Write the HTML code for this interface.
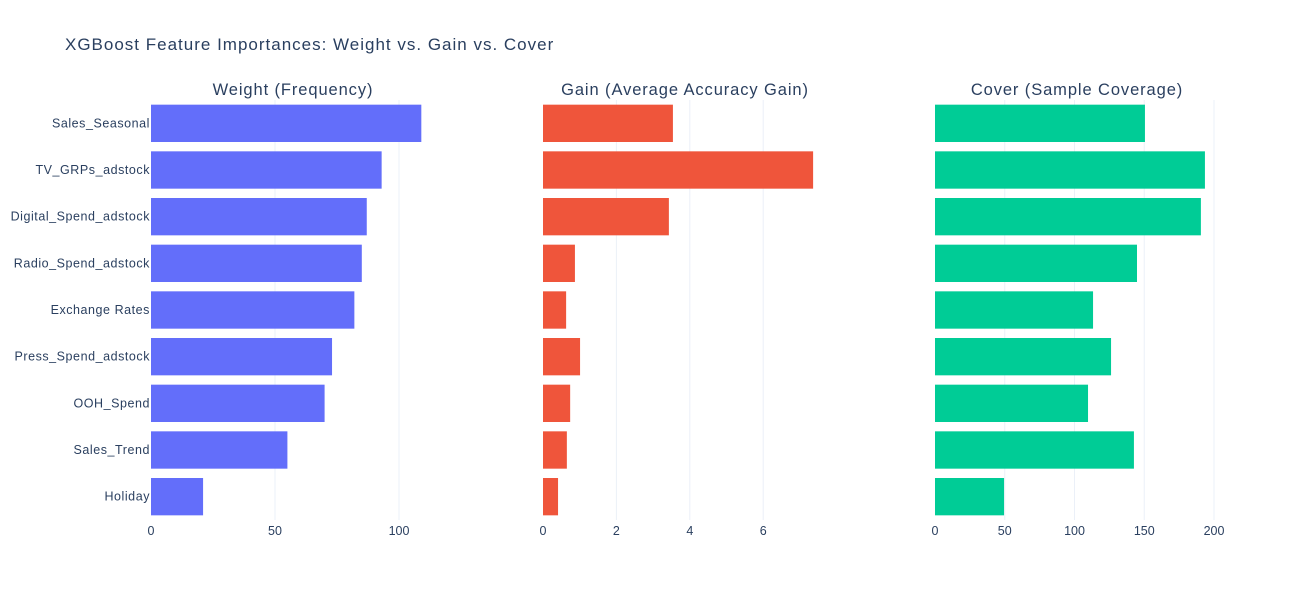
<!DOCTYPE html>
<html><head><meta charset="utf-8"><style>
body{margin:0;background:#fff;font-family:"Liberation Sans",Arial,sans-serif}
text{font-family:"Liberation Sans",Arial,sans-serif;fill:#2a3f5f}
</style></head><body>
<svg id="chart" width="1300" height="600">
<text x="65" y="50" font-size="17" letter-spacing="1">XGBoost Feature Importances: Weight vs. Gain vs. Cover</text>
</svg>
<script>
const features = ["Sales_Seasonal","TV_GRPs_adstock","Digital_Spend_adstock","Radio_Spend_adstock","Exchange Rates","Press_Spend_adstock","OOH_Spend","Sales_Trend","Holiday"];
const weightValues = [109,93,87,85,82,73,70,55,21];
const gainValues = [3.54,7.36,3.43,0.87,0.63,1.01,0.74,0.65,0.41];
const coverValues = [150.5,193.5,190.6,144.8,113.3,126.2,109.7,142.6,49.5];
const weightTicks = [0,50,100];
const gainTicks = [0,2,4,6];
const coverTicks = [0,50,100,150,200];

const NS="http://www.w3.org/2000/svg";
const svg=document.getElementById('chart');
function mk(tag,attrs,parent){const e=document.createElementNS(NS,tag);for(const k in attrs)e.setAttribute(k,attrs[k]);(parent||svg).appendChild(e);return e;}
const plotTop=100,plotBottom=520,band=(plotBottom-plotTop)/features.length;
const panels=[
 {name:'weight',title:'Weight (Frequency)',x0:151,scale:2.48,vals:weightValues,ticks:weightTicks,color:'#636efa'},
 {name:'gain',title:'Gain (Average Accuracy Gain)',x0:543,scale:36.7,vals:gainValues,ticks:gainTicks,color:'#ef553b'},
 {name:'cover',title:'Cover (Sample Coverage)',x0:935,scale:1.395,vals:coverValues,ticks:coverTicks,color:'#00cc96'}
];
panels.forEach(p=>{
 const g=mk('g',{});
 
 
 const xs=v=>p.x0+v*p.scale;
 p.ticks.forEach(t=>{
  if(t>0){const l=mk('line',{x1:xs(t),x2:xs(t),y1:plotTop,y2:plotBottom,stroke:'#ebf0f8','stroke-width':1},g);
   
   }
  const tx=mk('text',{x:xs(t),y:535,'font-size':12.5,'text-anchor':'middle'},g);
  tx.textContent=t;
  
  
 });
 const title=mk('text',{x:p.x0+142,y:95,'font-size':16.5,'letter-spacing':0.9,'text-anchor':'middle'},g);
 title.textContent=p.title;
 
 
 p.vals.forEach((v,i)=>{
  const cy=plotTop+band*(i+0.5),h=band*0.8;
  const r=mk('rect',{x:p.x0,y:cy-h/2,width:Math.max(0,xs(v)-p.x0),height:h,fill:p.color},g);
  
  
 });
});
features.forEach((f,i)=>{
 const t=mk('text',{x:150,y:plotTop+band*(i+0.5)+4,'font-size':12.5,'letter-spacing':0.55,'text-anchor':'end'});
 t.textContent=f;
 
 
});
</script>
</body></html>
